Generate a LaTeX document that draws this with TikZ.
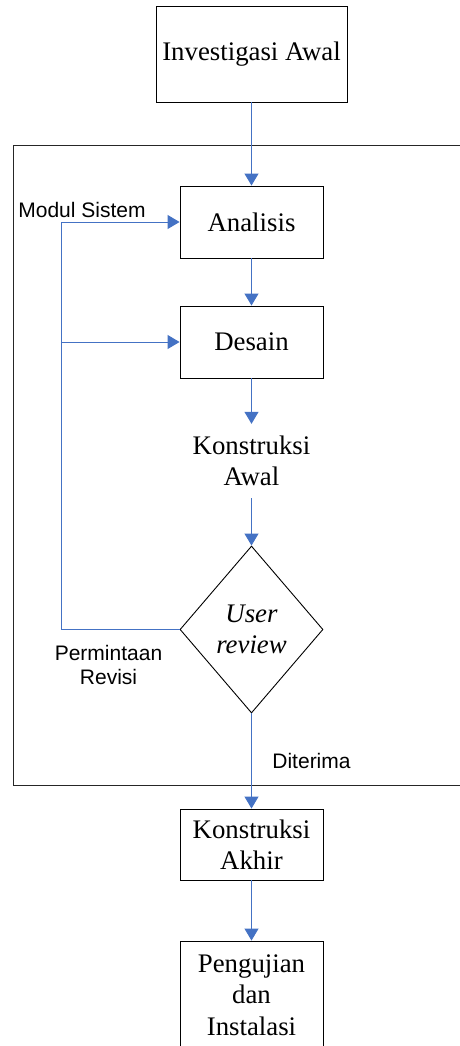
\documentclass[tikz,border=0pt]{standalone}
\usepackage{fontspec}
\setmainfont{Liberation Serif}
\setsansfont{Liberation Sans}
\usetikzlibrary{arrows.meta,shapes.geometric}
\definecolor{flowblue}{RGB}{68,114,196}
\begin{document}
\begin{tikzpicture}[x=1pt,y=-1pt,
  box/.style={draw=black,line width=0.9pt,minimum width=143pt,inner sep=0pt,align=center,
    font=\fontsize{26.8}{31.5}\selectfont},
  flow/.style={draw=flowblue,line width=1pt,-{Triangle[width=14pt,length=12pt]}},
  lbl/.style={font=\sffamily\fontsize{21}{24}\selectfont,align=center,inner sep=0pt}]
\useasboundingbox (0,0) rectangle (460,1046);
\clip (0,0) rectangle (460,1046);
% frame
\draw[line width=1pt,black!85] (13,145) rectangle (480,785);
% nodes
\node[box,minimum width=191pt,minimum height=96pt] (inv) at (251.5,54) {Investigasi Awal};
\node[box,minimum height=72pt] (anal) at (251.5,222) {Analisis};
\node[box,minimum height=72pt] (des) at (251.5,342) {Desain};
\node[align=center,inner sep=0pt,minimum height=74pt,font=\fontsize{26.8}{31}\selectfont] (kawal) at (251.5,461) {Konstruksi\\Awal};
\node[draw=black,line width=0.9pt,shape=diamond,minimum width=143pt,minimum height=167pt,inner sep=0pt,
  align=center,font=\itshape\fontsize{26.8}{31}\selectfont] (rev) at (251.5,629.5) {User\\review};
\node[box,minimum height=71pt] (akhir) at (251.5,844.5) {Konstruksi\\Akhir};
\node[box,minimum height=108pt] (peng) at (251.5,995) {Pengujian\\dan\\Instalasi};
% connectors
\draw[flow] (inv) -- (anal);
\draw[flow] (anal) -- (des);
\draw[flow] (des) -- (kawal.north);
\draw[flow] (kawal.south) -- (rev.north);
\draw[flow] (rev.south) -- (akhir.north);
\draw[flow] (akhir) -- (peng);
\coordinate (fb) at (61,629.5);
\coordinate (fa) at (61,222);
\coordinate (fd) at (61,342);
\draw[draw=flowblue,line width=1pt] (rev.west) -- (fb) -- (fa);
\draw[flow] (fa) -- (anal.west);
\draw[flow] (fd) -- (des.west);
% labels
\node[lbl] (modul) at (82,210) {Modul Sistem};
\node[lbl] (perm) at (108.5,665) {Permintaan\\Revisi};
\node[lbl] (dit) at (311.5,761) {Diterima};
\end{tikzpicture}
\end{document}
